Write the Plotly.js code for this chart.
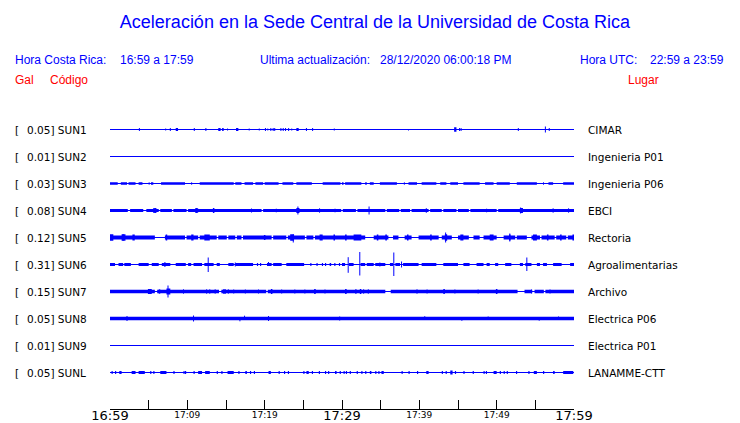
<!DOCTYPE html>
<html>
<head>
<meta charset="utf-8">
<script src="https://cdn.plot.ly/plotly-3.0.1.min.js"></script>
<style>html,body{margin:0;padding:0;background:#fff;}#chart{width:740px;height:423px;}</style>
</head>
<body>
<div id="chart"></div>
<script>
// ---------------- DATA ----------------
// time axis in minutes after 16:59 (0..60)
const stations = ['SUN1','SUN2','SUN3','SUN4','SUN5','SUN6','SUN7','SUN8','SUN9','SUNL'];
const galScale = ['0.05','0.01','0.03','0.08','0.12','0.31','0.15','0.05','0.01','0.05'];
const places   = ['CIMAR','Ingenieria P01','Ingenieria P06','EBCI','Rectoria','Agroalimentarias','Archivo','Electrica P06','Electrica P01','LANAMME-CTT'];
// half thickness (px) of the continuous noise band of each trace (0 = thin trace)
const bandHalf = [0, 0, 1.3, 1.6, 2.0, 0, 1.7, 1.8, 0, 0];
// default half thickness (px) of short noise bursts
const burstHalf = [1.5, 1.5, 1.3, 2.2, 3.0, 1.6, 2.4, 2.2, 1.3, 1.4];

const majorTickVals = [0, 30, 60];
const majorTickText = ['16:59', '17:29', '17:59'];
const minorTickVals = [10, 20, 40, 50];
const minorTickText = ['17:09', '17:19', '17:39', '17:49'];
const allTickVals = [0,5,10,15,20,25,30,35,40,45,50,55,60];

// gaps: [t0,t1] minutes where the noise band drops to a thin line
const gapsSUN3 = [[1.0,1.4],[2.2,2.4],[3.3,3.7],[4.2,5.3],[5.6,6.6],[9.7,11.6],[16.0,16.2],[17.0,17.4],[18.5,18.8],[19.8,20.0],[21.8,22.3],[23.7,24.1],[26.1,27.5],[29.8,30.0],[30.2,30.4],[32.5,33.0],[33.2,33.6],[34.1,34.9],[37.1,38.6],[39.7,40.3],[42.2,42.7],[43.5,44.0],[45.0,45.7],[47.8,48.5],[49.6,50.0],[51.7,52.6],[55.2,56.7],[57.3,58.6]];
const gapsSUN4 = [[2.3,2.6],[4.3,4.7],[6.3,6.5],[8.0,8.2],[9.9,10.1],[19.6,19.8],[29.9,30.1],[31.8,32.0],[35.6,35.8],[37.4,37.6],[38.8,39.0],[41.2,41.4],[42.9,43.1],[44.8,45.0],[46.4,46.6],[50.0,50.2]];
const gapsSUN5 = [[5.8,7.1],[9.7,9.9],[11.4,11.6],[13.8,14.0],[15.1,15.3],[16.2,16.4],[17.0,17.2],[20.9,21.1],[22.8,23.0],[25.2,25.4],[26.3,26.5],[33.0,34.1],[36.0,36.6],[37.3,38.1],[39.0,39.9],[42.5,42.9],[44.2,45.0],[46.4,47.0],[47.8,48.3],[50.0,50.9],[52.4,52.6],[53.9,54.5],[55.6,55.8],[57.5,57.7],[59.0,59.2]];
const gapsSUN7 = [[5.8,6.1],[14.1,14.4],[20.2,20.4],[35.6,36.3],[52.7,53.6],[54.6,54.9],[56.1,56.3]];
const gapsSUN8 = [];

// bursts: [t0,t1,(half px)] short thicker stretches
const burstsSUN1 = [[8.5,8.8],[14.0,14.3],[14.5,14.7],[16.3,16.6],[24.1,24.4],[44.5,44.8,2.2]];
const burstsSUN3 = [[5.0,5.12],[10.5,10.62],[38.0,38.12],[56.0,56.12]];
const burstsSUN4 = [[5.6,6.0],[11.0,11.4],[13.3,13.5],[24.1,24.5,2.6],[53.0,53.4,2.6]];
const burstsSUN5 = [[0,0.43,3.3],[1.5,2.0,3.3],[2.9,3.2],[7.2,7.4],[10.5,10.8],[12.2,12.9],[19.9,20.1,2.6],[23.3,23.8,3.3],[27.1,27.5],[28.9,29.1],[30.4,30.6],[31.5,32.5],[34.5,34.7],[35.6,35.8],[38.4,38.6],[41.4,41.6],[43.3,43.6,3.3],[45.3,45.7],[49.1,49.6],[51.6,51.8],[54.7,55.2],[56.5,56.7],[58.2,58.4],[59.8,60]];
const burstsSUN6 = [[0,0.65],[1.1,1.7],[1.85,2.7],[3.7,5.0],[5.4,6.3],[6.7,7.8],[8.5,9.8],[10.1,10.5],[10.8,11.9],[12.2,13.4],[13.8,14.2],[15.3,16.0],[16.2,18.5],[19.0,19.15],[19.4,19.55],[20.3,20.9],[21.1,22.2],[22.8,25.1],[25.9,26.05],[26.7,26.85],[27.4,27.55],[27.8,27.95],[28.4,28.6],[29.0,29.15],[29.6,29.75],[30.0,30.4],[30.9,31.5],[32.4,33.0],[33.2,34.1],[34.3,35.6],[36.2,36.6],[36.9,37.5],[37.9,39.9],[40.3,42.2],[43.1,45.0],[45.7,46.5],[47.4,48.3],[48.7,49.1],[49.8,50.2],[51.1,51.9],[53.0,53.4],[53.7,54.5],[55.2,55.6],[56.0,56.5],[57.3,58.4],[59.5,60]];
const burstsSUN7 = [[4.9,5.4,2.5],[6.3,6.5,2.2],[7.3,7.8,3],[14.6,15.0,2.2],[20.8,21.0,2.5],[26.4,26.6,2.5],[30.4,30.6,2.5],[32.3,32.5,2.5],[43.1,43.3,2.5],[49.9,50.1,2.5]];
const burstsSUN8 = [];
const burstsSUNL = [[0.2,0.35],[0.65,0.8],[1.2,1.5],[2.8,3.3],[3.7,4.5],[5.2,5.35],[5.6,5.75],[6.5,7.3],[8.2,8.35],[9.5,9.65],[9.7,9.85],[10.8,10.95],[11.4,11.9],[12.3,12.9],[13.8,13.95],[14.4,14.55],[15.2,16.0],[16.6,16.75],[17.5,17.7],[18.1,18.25],[18.6,18.75],[20.5,20.8],[21.8,21.95],[22.5,22.65],[23.0,23.15],[25.0,25.15],[25.4,25.7],[26.1,26.25],[27.0,27.15],[27.8,27.95],[28.2,28.35],[29.1,29.3],[29.7,29.85],[30.2,30.35],[30.5,30.65],[31.0,31.15],[31.9,32.05],[32.5,32.65],[33.0,33.15],[33.6,33.8],[34.3,34.45],[34.7,34.85],[35.1,35.4],[37.7,37.85],[38.6,38.75],[39.7,39.85],[40.9,41.2],[42.9,43.05],[43.4,43.55],[44.0,44.3,2],[44.6,44.75],[45.7,45.85],[46.9,47.05],[48.3,48.45],[48.6,48.75],[49.6,50.0],[50.4,50.55],[50.9,51.05],[51.3,51.45],[52.5,52.65],[54.1,54.25],[54.8,55.2],[56.0,56.15],[57.3,57.5],[58.6,59.9]];

// spikes: [t, up px, down px]
const spikesSUN1 = [[3.8,1.5,1.5],[7.2,1,1],[7.8,1.5,1.5],[10.9,1.5,1.5],[12.4,1.5,1.5],[15.2,1,1],[18.0,1,1],[19.3,1,1],[20.1,1.5,1.5],[20.4,1,1],[20.8,1.5,1.5],[21.1,1.5,1.5],[21.3,1.5,1.5],[22.1,1.5,1.5],[22.4,1.5,1.5],[22.7,1.5,1.5],[23.1,1.5,1.5],[23.5,1,1],[25.4,1.5,1.5],[26.2,1.5,1.5],[29.0,1,1],[38.6,0,1],[45.2,1.5,1.5],[45.4,1.5,1.5],[52.8,1.5,1.5],[56.3,3,3],[56.8,1.5,1.5]];
const spikesSUN4 = [[5.7,2.5,2.5],[5.9,2.5,2.5],[11.2,2.5,2.5],[13.4,2.5,2.5],[18.3,2,2],[21.5,1.8,1.8],[24.3,4,4],[27.1,2.2,2.2],[29.1,1.8,1.8],[33.5,4,4],[40.9,2.3,2.3],[48.7,1.8,1.8],[53.1,3,3],[57.3,2.2,2.2],[59.3,2.2,2.2]];
const spikesSUN5 = [[1.7,3.5,3.5],[23.7,3,5],[43.4,5,5],[51.7,4,4]];
const spikesSUN6 = [[7.1,2.5,2.5],[12.7,7,7.5],[16.2,2,2],[20.5,2.5,0.5],[30.8,7.3,8.3],[32.3,12.5,11],[34.9,2,2],[36.7,12,11.5],[37.7,3,3],[53.9,7,6.5]];
const spikesSUN7 = [[7.5,6,6],[9.5,2.2,2.2],[12.5,2.2,2.2],[12.9,2.2,2.2],[13.6,2.2,2.2],[15.3,2.2,2.2],[16.0,2,2],[17.5,2,2],[19.2,2,2],[22.2,2,2],[23.9,2,2],[25.2,2,2],[27.8,2,2],[31.8,2.5,2.5],[32.8,2.2,2.2],[33.4,2.2,2.2],[39.7,2.2,2.2],[41.0,2,2],[44.6,2,2],[47.6,2,2],[54.5,2,2],[56.9,2,2]];
const spikesSUN8 = [[2.2,2.5,2.5],[10.8,3,3],[16.8,0,2.8],[17.4,2.8,0],[20.5,2.5,2.5],[29.7,2,2],[40.7,2.3,0],[45.5,0,2.3],[48.9,2,0],[55.5,0,2.2],[58.0,2,0]];

const gapsBy   = {SUN3:gapsSUN3, SUN4:gapsSUN4, SUN5:gapsSUN5, SUN7:gapsSUN7, SUN8:gapsSUN8};
const burstsBy = {SUN1:burstsSUN1, SUN3:burstsSUN3, SUN4:burstsSUN4, SUN5:burstsSUN5, SUN6:burstsSUN6, SUN7:burstsSUN7, SUN8:burstsSUN8, SUNL:burstsSUNL};
const spikesBy = {SUN1:spikesSUN1, SUN4:spikesSUN4, SUN5:spikesSUN5, SUN6:spikesSUN6, SUN7:spikesSUN7, SUN8:spikesSUN8};

// ---------------- DRAWING ----------------
const BLUE = '#0000ff';
const T_END = 60;
const SPACING_PX = 27;          // px between traces
const U = 1 / SPACING_PX;       // y data units per px

function complement(gaps) {
  const segs = []; let s = 0;
  gaps.slice().sort((a,b)=>a[0]-b[0]).forEach(g => { if (g[0] > s) segs.push([s, g[0]]); s = Math.max(s, g[1]); });
  if (s < T_END) segs.push([s, T_END]);
  return segs;
}

const traces = [];
stations.forEach((st, i) => {
  const c = -i;
  traces.push({x:[0, T_END], y:[c, c], mode:'lines', line:{color:BLUE, width:1.2}, hoverinfo:'skip', showlegend:false});
  const rx = [], ry = [];
  const addRect = (a, b, h) => {
    rx.push(a, b, b, a, a, null);
    ry.push(c - h*U, c - h*U, c + h*U, c + h*U, c - h*U, null);
  };
  if (bandHalf[i] > 0) complement(gapsBy[st] || []).forEach(s => addRect(s[0], s[1], bandHalf[i]));
  (burstsBy[st] || []).forEach(b => addRect(b[0], b[1], b.length > 2 ? b[2] : burstHalf[i]));
  if (rx.length) traces.push({x:rx, y:ry, mode:'lines', fill:'toself', fillcolor:BLUE, line:{color:BLUE, width:0}, hoverinfo:'skip', showlegend:false});
  const sx = [], sy = [];
  (spikesBy[st] || []).forEach(p => { sx.push(p[0], p[0], null); sy.push(c + p[1]*U, c - p[2]*U, null); });
  if (sx.length) traces.push({x:sx, y:sy, mode:'lines', line:{color:BLUE, width:1}, hoverinfo:'skip', showlegend:false});
});
// carrier trace for the secondary (small-label) time axis
traces.push({x:[0, T_END], y:[null, null], xaxis:'x2', mode:'lines', hoverinfo:'skip', showlegend:false});

// pixel helpers for placing text in the page frame
const L = 110, R = 574, TOP = 110, BOT = 409, W = 740, H = 423;
const px = v => (v - L) / (R - L);
const py = v => (BOT - v) / (BOT - TOP);

const annotations = [];
const headFont = {family:'Liberation Sans, Arial, sans-serif', size:12, color:BLUE};
const redFont  = {family:'Liberation Sans, Arial, sans-serif', size:12, color:'#ff0000'};
function txt(text, x, y, font, xanchor) {
  annotations.push({text, xref:'paper', yref:'paper', x:px(x), y:py(y), xanchor:xanchor||'left', yanchor:'middle', showarrow:false, font, borderpad:0, borderwidth:0});
}
txt('Hora Costa Rica:', 15, 60, headFont);
txt('16:59 a 17:59', 120, 60, headFont);
txt('Ultima actualización:', 260, 60, headFont);
txt('28/12/2020 06:00:18 PM', 380, 60, headFont);
txt('Hora UTC:', 580, 60, headFont);
txt('22:59 a 23:59', 650, 60, headFont);
txt('Gal', 15, 80, redFont);
txt('Código', 50, 80, redFont);
txt('Lugar', 628, 80, redFont);

const labFont = {family:'DejaVu Sans', size:10.5, color:'#000'};
stations.forEach((st, i) => {
  annotations.push({text:'[', xref:'paper', yref:'y', x:px(15), y:-i, xanchor:'left', yanchor:'middle', showarrow:false, font:labFont, borderpad:0, borderwidth:0});
  annotations.push({text:galScale[i] + '] ' + st, xref:'paper', yref:'y', x:px(27), y:-i, xanchor:'left', yanchor:'middle', showarrow:false, font:labFont, borderpad:0, borderwidth:0});
  annotations.push({text:places[i], xref:'paper', yref:'y', x:px(588), y:-i, xanchor:'left', yanchor:'middle', showarrow:false, font:labFont, borderpad:0, borderwidth:0});
});

const yTop = (129.5 - TOP) / SPACING_PX;
const yBot = -(BOT - 129.5) / SPACING_PX;

const layout = {
  width: W, height: H,
  margin: {l: L, r: W - R, t: TOP, b: H - BOT, pad: 0},
  paper_bgcolor: '#fff', plot_bgcolor: '#fff',
  font: {family: 'DejaVu Sans', color: '#000'},
  showlegend: false,
  title: {text: 'Aceleración en la Sede Central de la Universidad de Costa Rica',
          font: {family: 'Liberation Sans, Arial, sans-serif', size: 18, color: BLUE},
          xref: 'container', yref: 'container', x: 375/W, xanchor: 'center', y: 1 - 22/H, yanchor: 'middle'},
  xaxis: {range: [0, T_END], showgrid: false, zeroline: false, showline: true, linecolor: '#000', linewidth: 1,
          ticks: 'inside', ticklen: 9, tickwidth: 1, tickcolor: '#000',
          tickmode: 'array', tickvals: allTickVals, ticklabelstandoff: -6,
          ticktext: allTickVals.map(v => { const k = majorTickVals.indexOf(v); return k >= 0 ? majorTickText[k] : ''; }),
          tickfont: {family: 'DejaVu Sans', size: 13, color: '#000'}, fixedrange: true},
  xaxis2: {range: [0, T_END], overlaying: 'x', anchor: 'y', side: 'bottom', showgrid: false, zeroline: false, showline: false,
           ticks: '', tickmode: 'array', tickvals: minorTickVals, ticktext: minorTickText, ticklabelstandoff: -1,
           tickfont: {family: 'DejaVu Sans', size: 9, color: '#000'}, fixedrange: true},
  yaxis: {range: [yBot, yTop], visible: false, fixedrange: true},
  annotations
};

Plotly.newPlot('chart', traces, layout, {displayModeBar: false, staticPlot: true});
</script>
</body>
</html>
